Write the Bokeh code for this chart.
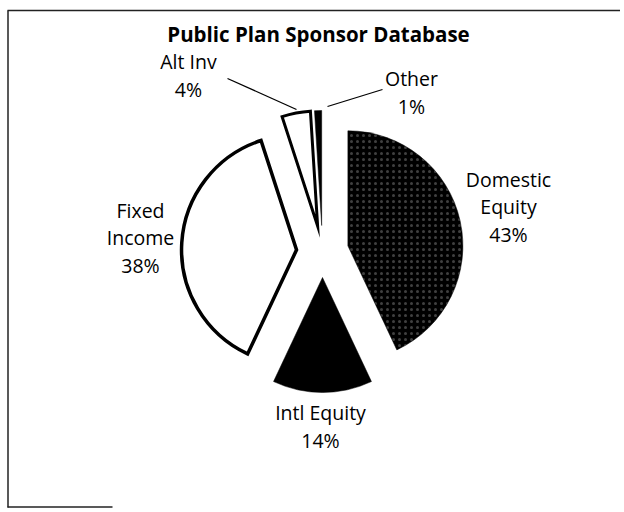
import math
from bokeh.plotting import figure
from bokeh.models import Range1d
from bokeh.core.properties import value
from bokeh.embed import file_html
from bokeh.resources import INLINE

# ---- data ----
title_text = "Public Plan Sponsor Database"
categories = ["Domestic\nEquity", "Intl Equity", "Fixed\nIncome", "Alt Inv", "Other"]
shares = [43, 14, 38, 4, 1]

# ---- style ----
W, H = 620, 508
FONT = "Open Sans"
fills = ["black", "black", "white", "white", "black"]
outline_w = [0, 0, 3.5, 3, 0]
hatches = [".", None, None, None, None]
RADIUS = 115
EXPLODE = 26
CENTER_S = (322, 251)          # screen px
label_anchor_s = [(508, 206), (320, 426), (140, 237), (188, 75), (411, 92)]
leader_s = {3: ((227, 78), (296, 109)), 4: ((382, 89), (327, 106))}
LINE_PITCH = 27.5


def sx(x):
    return x


def sy(y):
    return H - y


p = figure(width=W, height=H, output_backend="svg", toolbar_location=None,
           x_range=Range1d(0, W), y_range=Range1d(0, H), min_border=0)
p.axis.visible = False
p.grid.visible = False
p.outline_line_color = None
p.background_fill_color = "white"
p.border_fill_color = "white"

# frame lines (partial box as in reference)
p.line([sx(7), sx(624)], [sy(10), sy(10)], line_color="#222222", line_width=1.5)
p.line([sx(7.5), sx(7.5)], [sy(10), sy(507)], line_color="#222222", line_width=1.5)
p.line([sx(7), sx(112)], [sy(506.5), sy(506.5)], line_color="#222222", line_width=1.5)

# pie slices: clockwise from 12 o'clock, exploded
total = float(sum(shares))
cx, cy = sx(CENTER_S[0]), sy(CENTER_S[1])
start = 0.0
for i, s in enumerate(shares):
    end = start + s / total * 360.0
    mid = math.radians((start + end) / 2)
    ox = cx + EXPLODE * math.sin(mid)
    oy = cy + EXPLODE * math.cos(mid)
    a0 = math.radians(90 - end)
    a1 = math.radians(90 - start)
    kw = dict(fill_color=fills[i], line_color="black",
              line_width=outline_w[i] if outline_w[i] else 0.5,
              line_join="miter")
    if hatches[i]:
        kw.update(hatch_pattern=hatches[i], hatch_color="white",
                  hatch_alpha=0.25, hatch_scale=6, hatch_weight=1)
    p.wedge(x=ox, y=oy, radius=RADIUS, start_angle=a0, end_angle=a1, **kw)
    start = end

# leader lines
for i, ((x0, y0), (x1, y1)) in leader_s.items():
    p.line([sx(x0), sx(x1)], [sy(y0), sy(y1)], line_color="black", line_width=1.3)

# labels
xs, ys, txt = [], [], []
for i, (lab, s) in enumerate(zip(categories, shares)):
    lines = lab.split("\n") + [f"{s}%"]
    ax, ay = label_anchor_s[i]
    n = len(lines)
    for k, ln in enumerate(lines):
        xs.append(sx(ax))
        ys.append(sy(ay + (k - (n - 1) / 2) * LINE_PITCH))
        txt.append(ln)
p.text(x=xs, y=ys, text=txt, text_align="center", text_baseline="middle",
       text_font=value(FONT), text_font_size="19.5px", text_color="black")

# title
p.text(x=[sx(318)], y=[sy(33)], text=[title_text], text_align="center",
       text_baseline="middle", text_font=value(FONT), text_font_size="20.5px",
       text_font_style="bold", text_color="black")

open("out.html", "w").write(file_html(p, INLINE))
